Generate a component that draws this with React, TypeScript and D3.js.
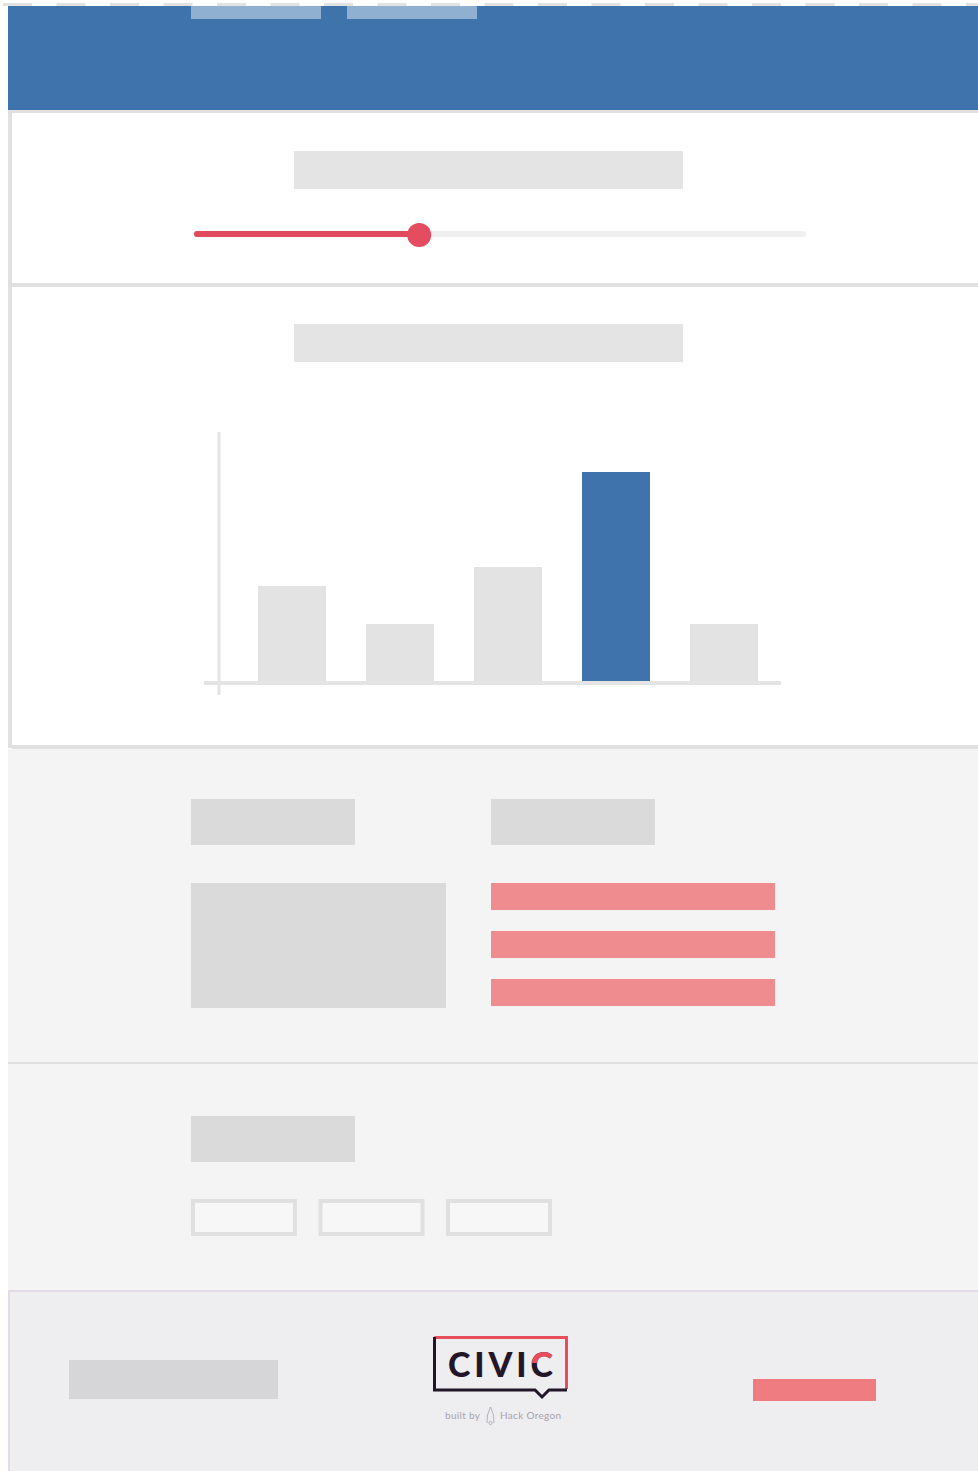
import * as d3 from "d3";
import { useEffect } from "react";

const barCategories = ["A", "B", "C", "D", "E"];
const barValues = [5, 3, 6, 11, 3];
const highlightIndex = 3;
const yMax = 13;
const sliderValue = 22;
const sliderMax = 60;
const tabLabels = ["tab1", "tab2"];
const listRows = ["row1", "row2", "row3"];
const buttonLabels = ["b1", "b2", "b3"];

const W = 978;
const H = 1471;
const BLUE = "#3e74ab";
const LINE = "#e0e0e0";

export default function App() {
  useEffect(() => {
    document.body.style.margin = "0";
  }, []);

  // bar chart scales
  const x = d3.scaleBand<string>()
    .domain(barCategories)
    .range([220, 796])
    .paddingInner(0.37)
    .paddingOuter(0.352);
  const y = d3.scaleLinear().domain([0, yMax]).range([681, 434]);

  // slider scale
  const s = d3.scaleLinear().domain([0, sliderMax]).range([197, 803]);

  // dashed strip on top
  const dashX = d3.range(3, W, 53.5);

  // layout bands
  const tabX = d3.scaleBand<string>().domain(tabLabels).range([191, 477]).paddingInner(0.1667);
  const rowY = d3.scaleBand<string>().domain(listRows).range([883, 1006]).paddingInner(0.4375);
  const btnX = d3.scaleBand<string>().domain(buttonLabels).range([191, 552]).paddingInner(0.169);

  return (
    <svg width={W} height={H} style={{ position: "absolute", left: 0, top: 0, display: "block" }}>
      <rect width={W} height={H} fill="#fff" />
      {dashX.map((d, i) => (
        <rect key={i} x={d} y={3} width={29} height={3} fill="#e2e2e2" />
      ))}

      {/* header */}
      <rect x={8} y={6} width={W - 8} height={104} fill={BLUE} />
      {tabLabels.map(t => (
        <rect key={t} x={tabX(t)} y={6} width={tabX.bandwidth()} height={13} fill="#8fb0d0" />
      ))}

      {/* section 1: slider */}
      <rect x={8} y={110} width={W - 8} height={176} fill="#fff" />
      <rect x={8} y={110} width={W - 8} height={3} fill={LINE} />
      <rect x={8} y={110} width={4} height={638} fill={LINE} />
      <rect x={12} y={283} width={W - 12} height={4} fill={LINE} />
      <rect x={294} y={151} width={389} height={38} fill="#e4e4e4" />
      <line x1={s(0)} x2={s(sliderMax)} y1={234} y2={234} stroke="#efefef" strokeWidth={6} strokeLinecap="round" />
      <line x1={s(0)} x2={s(sliderValue)} y1={234} y2={234} stroke="#e04a5d" strokeWidth={6} strokeLinecap="round" />
      <circle cx={s(sliderValue)} cy={235} r={12} fill="#e44c60" />

      {/* section 2: chart */}
      <rect x={12} y={745} width={W - 12} height={4} fill={LINE} />
      <rect x={294} y={324} width={389} height={38} fill="#e4e4e4" />
      <line x1={219} x2={219} y1={432} y2={695} stroke="#e4e4e4" strokeWidth={3} />
      <line x1={204} x2={781} y1={683} y2={683} stroke="#e4e4e4" strokeWidth={4} />
      {barCategories.map((c, i) => (
        <rect
          key={c}
          x={x(c)}
          y={y(barValues[i])}
          width={x.bandwidth()}
          height={y(0) - y(barValues[i])}
          fill={i === highlightIndex ? BLUE : "#e3e3e3"}
        />
      ))}

      {/* section 3 */}
      <rect x={8} y={749} width={W - 8} height={313} fill="#f4f4f4" />
      <rect x={191} y={799} width={164} height={46} fill="#dadada" />
      <rect x={491} y={799} width={164} height={46} fill="#dadada" />
      <rect x={191} y={883} width={255} height={125} fill="#dadada" />
      {listRows.map(r => (
        <rect key={r} x={491} y={rowY(r)} width={284} height={rowY.bandwidth()} fill="#ef8c8f" />
      ))}
      <rect x={8} y={1062} width={W - 8} height={2} fill={LINE} />

      {/* section 4 */}
      <rect x={8} y={1064} width={W - 8} height={226} fill="#f4f4f4" />
      <rect x={191} y={1116} width={164} height={46} fill="#dadada" />
      {buttonLabels.map(b => (
        <rect key={b} x={(btnX(b) as number) + 2} y={1201} width={btnX.bandwidth() - 4} height={33}
          fill="#f7f7f7" stroke="#e0e0e0" strokeWidth={4} />
      ))}

      {/* footer */}
      <rect x={8} y={1290} width={W - 8} height={H - 1290} fill="#eeedf0" />
      <rect x={8} y={1290} width={W - 8} height={2} fill="#e3dce8" />
      <rect x={8} y={1290} width={2} height={H - 1290} fill="#e3dce8" />
      <rect x={69} y={1360} width={209} height={39} fill="#d6d6d9" />
      <rect x={753} y={1379} width={123} height={22} fill="#ef7c80" />

      {/* CIVIC logo */}
      <g>
        <path d="M434.5,1337.5 L566.5,1337.5 L566.5,1389" fill="none" stroke="#e84d5b" strokeWidth={3} />
        <path d="M434.5,1337 L434.5,1390 L535,1390 L542,1397 L549,1390 L567,1390" fill="none" stroke="#221628" strokeWidth={3} strokeLinejoin="miter" />
        <defs>
          <clipPath id="civicTop">
            <rect x={525} y={1345} width={40} height={18} />
          </clipPath>
        </defs>
        <text x={448} y={1377} fontFamily="Lato, 'Noto Sans', sans-serif" fontWeight={900} fontSize={34}
          fill="#221628" textLength={105} lengthAdjust="spacing">CIVIC</text>
        <g clipPath="url(#civicTop)">
          <text x={448} y={1377} fontFamily="Lato, 'Noto Sans', sans-serif" fontWeight={900} fontSize={34}
            fill="#e84d5b" textLength={105} lengthAdjust="spacing">CIVIC</text>
        </g>
        <text x={445} y={1419} fontFamily="Lato, sans-serif" fontSize={10} fill="#a9a3ac"
          textLength={35} lengthAdjust="spacing">built by</text>
        <path d="M487,1423 L487.5,1415 L490.5,1407 L493.5,1415 L494,1423" fill="none" stroke="#a9a3ac" strokeWidth={0.8} />
        <circle cx={490.5} cy={1423} r={1.6} fill="none" stroke="#a9a3ac" strokeWidth={0.8} />
        <text x={500} y={1419} fontFamily="Lato, sans-serif" fontSize={10} fill="#a9a3ac"
          textLength={61} lengthAdjust="spacing">Hack Oregon</text>
      </g>
    </svg>
  );
}
